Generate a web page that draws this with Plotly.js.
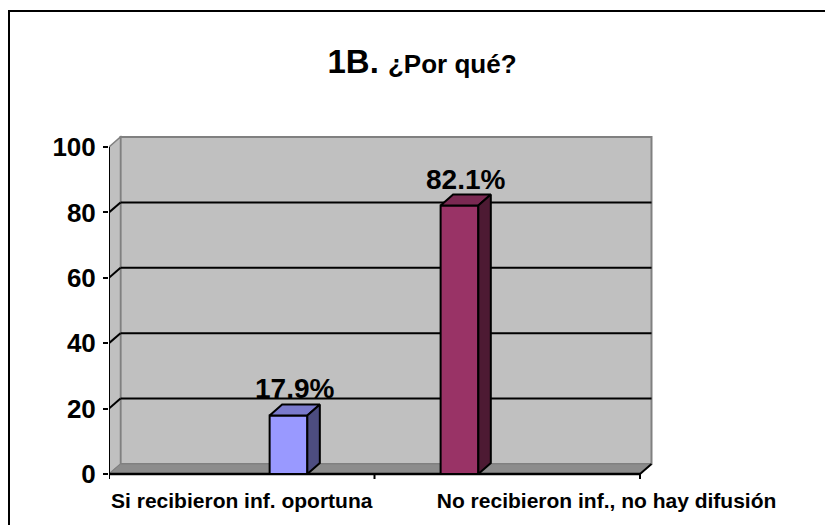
<!DOCTYPE html>
<html>
<head>
<meta charset="utf-8">
<script src="https://cdn.plot.ly/plotly-3.0.1.min.js"></script>
<style>
html,body{margin:0;padding:0;background:#fff;}
#chart{width:825px;height:525px;}
</style>
</head>
<body>
<div id="chart"></div>
<script>
// ---- data ----
const categories = ['Si recibieron inf. oportuna', 'No recibieron inf., no hay difusión'];
const values = [17.9, 82.1];
const valueLabels = ['17.9%', '82.1%'];
const yTickVals = [0, 20, 40, 60, 80, 100];
const yTickText = ['0', '20', '40', '60', '80', '100'];
const chartTitle = '1B.';
const chartSubtitle = '¿Por qué?';

// ---- layout geometry (pixels) ----
const W = 825, H = 525;
const L = 109, R = 660, T = 125, B = 482;
const pxPerCat = 265.5;          // horizontal pixels per category
const pxPerUnit = 3.27;          // vertical pixels per value unit
const zeroPx = 474;              // pixel row of value 0 on the front plane
const cat0Px = 241.75;           // pixel column of category 0 centre
const xr = [(L - cat0Px) / pxPerCat, (R - cat0Px) / pxPerCat];
const yr = [(zeroPx - B) / pxPerUnit, (zeroPx - T) / pxPerUnit];

const dx = 11.5 / pxPerCat;      // wall depth in x units
const dy = 10 / pxPerUnit;       // wall depth in y units
const bdx = 12.5 / pxPerCat;     // bar depth
const bdy = 11 / pxPerUnit;
const barW = 0.142;
const barOffset = [0.176, -0.18];
const xLeft = -0.5, xRight = categories.length - 0.5;
const yMax = yTickVals[yTickVals.length - 1];

const frontColors = ['#9999ff', '#993366'];
const topColors = ['#7a7acc', '#7a2952'];
const sideColors = ['#4d4d80', '#4d1a33'];

const FONT = 'Arial, "Liberation Sans", sans-serif';

// ---- shapes (walls, floor, grid) ----
const shapes = [];
// back wall
shapes.push({type:'rect', xref:'x', yref:'y', layer:'below',
  x0:xLeft+dx, x1:xRight+dx, y0:dy, y1:yMax+dy,
  fillcolor:'#c0c0c0', line:{color:'#808080', width:2}});
// left wall
shapes.push({type:'path', xref:'x', yref:'y', layer:'below',
  path:`M ${xLeft},0 L ${xLeft},${yMax} L ${xLeft+dx},${yMax+dy} L ${xLeft+dx},${dy} Z`,
  fillcolor:'#c0c0c0', line:{color:'#808080', width:1.5}});
// floor
shapes.push({type:'path', xref:'x', yref:'y', layer:'below',
  path:`M ${xLeft},0 L ${xRight},0 L ${xRight+dx},${dy} L ${xLeft+dx},${dy} Z`,
  fillcolor:'#8c8c8c', line:{color:'#808080', width:1}});
// gridlines
yTickVals.forEach(v => {
  if (v === 0 || v === yMax) return;
  shapes.push({type:'line', xref:'x', yref:'y', layer:'below',
    x0:xLeft+dx, x1:xRight+dx, y0:v+dy, y1:v+dy, line:{color:'#000', width:2}});
  shapes.push({type:'line', xref:'x', yref:'y', layer:'below',
    x0:xLeft, x1:xLeft+dx, y0:v, y1:v+dy, line:{color:'#000', width:2}});
});
// front floor edge and right end
shapes.push({type:'line', xref:'x', yref:'y', layer:'below',
  x0:xLeft, x1:xRight, y0:0, y1:0, line:{color:'#000', width:2.5}});
shapes.push({type:'line', xref:'x', yref:'y', layer:'below',
  x0:xRight, x1:xRight+dx, y0:0, y1:dy, line:{color:'#000', width:2}});
// front value axis line
shapes.push({type:'line', xref:'x', yref:'y', layer:'below',
  x0:xLeft, x1:xLeft, y0:0, y1:yMax, line:{color:'#000', width:2}});
// category tick marks
for (let i = 0; i <= categories.length; i++) {
  shapes.push({type:'line', xref:'x', yref:'y', layer:'below',
    x0:xLeft+i, x1:xLeft+i, y0:0, y1:-5/pxPerUnit, line:{color:'#000', width:2}});
}
// outer border (paper coords)
const px2X = p => (p - L) / (R - L);
const px2Y = p => (B - p) / (B - T);
shapes.push({type:'rect', xref:'paper', yref:'paper',
  x0:px2X(9), x1:px2X(840), y0:px2Y(540), y1:px2Y(11),
  fillcolor:'rgba(0,0,0,0)', line:{color:'#000', width:2}});

// ---- traces ----
const traces = [];
const centers = categories.map((c, i) => i + barOffset[i]);
traces.push({type:'bar', x:centers, y:values, width:barW,
  marker:{color:frontColors, line:{color:'#000', width:2}},
  hoverinfo:'skip', showlegend:false});
values.forEach((v, i) => {
  const xl = centers[i] - barW/2, xrr = centers[i] + barW/2;
  traces.push({type:'scatter', mode:'lines', fill:'toself',
    x:[xl, xrr, xrr+bdx, xl+bdx, xl], y:[v, v, v+bdy, v+bdy, v],
    fillcolor:topColors[i], line:{color:'#000', width:2}, hoverinfo:'skip', showlegend:false});
  traces.push({type:'scatter', mode:'lines', fill:'toself',
    x:[xrr, xrr, xrr+bdx, xrr+bdx, xrr], y:[0, v, v+bdy, bdy, 0],
    fillcolor:sideColors[i], line:{color:'#000', width:2}, hoverinfo:'skip', showlegend:false});
});

const annotations = values.map((v, i) => ({
  xref:'x', yref:'y', x:centers[i] + bdx/2, y:v + bdy, yanchor:'bottom', xanchor:'center',
  text:valueLabels[i], showarrow:false, yshift:-2,
  font:{family:FONT, size:28, color:'#000', weight:'bold'}
}));

const layout = {
  width:W, height:H,
  margin:{l:L, r:W-R, t:T, b:H-B, pad:0},
  paper_bgcolor:'#ffffff', plot_bgcolor:'rgba(0,0,0,0)',
  hovermode:false, showlegend:false,
  title:{text:`${chartTitle} <span style="font-size:26px">${chartSubtitle}</span>`,
    xref:'container', yref:'container', x:422/W, xanchor:'center', y:1-61/H, yanchor:'middle',
    font:{family:FONT, size:33, color:'#000', weight:'bold'}},
  xaxis:{range:xr, showgrid:false, zeroline:false, showline:false, ticks:'',
    tickmode:'array', tickvals:[0, 1.374], ticktext:categories,
    tickfont:{family:FONT, size:21, color:'#000', weight:'bold'}, ticklabelstandoff:4},
  yaxis:{range:yr, showgrid:false, zeroline:false, showline:false,
    ticks:'outside', ticklen:5, tickwidth:2, tickcolor:'#000',
    tickmode:'array', tickvals:yTickVals, ticktext:yTickText,
    tickfont:{family:FONT, size:26, color:'#000', weight:'bold'}, ticklabelstandoff:2},
  shapes:shapes, annotations:annotations
};

Plotly.newPlot('chart', traces, layout, {displayModeBar:false, staticPlot:true});
</script>
</body>
</html>
